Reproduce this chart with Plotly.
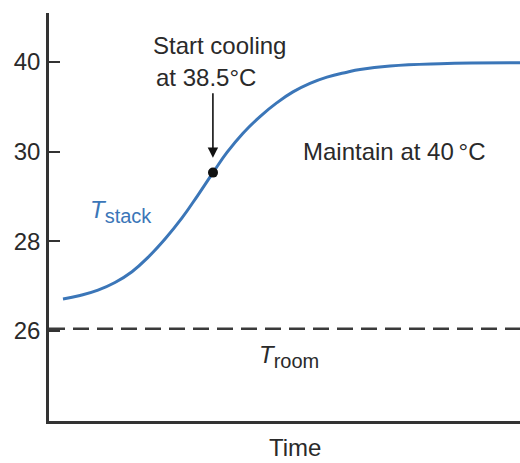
import plotly.graph_objects as go

# Curve: time (arbitrary units, 0-100) vs displayed temperature position
time_pts = [2.97, 6.58, 10.40, 14.01, 17.62, 21.02, 24.63, 28.24, 31.63, 34.82, 37.79,
            41.19, 44.80, 48.41, 51.80, 55.41, 59.02, 63.27, 66.03, 72.40, 83.01, 100.0]
t_stack = [26.71, 26.79, 26.91, 27.08, 27.32, 27.64, 28.05, 28.52, 29.03, 29.53, 29.98,
           30.41, 30.78, 31.09, 31.33, 31.52, 31.66, 31.77, 31.83, 31.91, 31.96, 31.98]

t_room = 26.05
cool_time = 34.82
cool_temp = 29.53

tick_vals = [26, 28, 30, 32]
tick_text = ["26", "28", "30", "40"]

FONT = "Liberation Sans, Arial, sans-serif"
BLUE = "#3b76b8"
DARK = "#2a2a2a"
FS = 24

fig = go.Figure()

fig.add_trace(go.Scatter(
    x=[0, 100], y=[t_room, t_room], mode="lines",
    line=dict(color="#3a3a3a", width=2.5, dash="16px,8px"),
    hoverinfo="skip", showlegend=False))

fig.add_trace(go.Scatter(
    x=time_pts, y=t_stack, mode="lines",
    line=dict(color=BLUE, width=3, shape="spline", smoothing=1.3),
    showlegend=False))

fig.add_trace(go.Scatter(
    x=[cool_time], y=[cool_temp], mode="markers",
    marker=dict(color="#111111", size=10),
    showlegend=False))

ann_font = dict(family=FONT, size=FS, color=DARK)

fig.add_annotation(x=36.1, y=32.36, text="Start cooling", showarrow=False, font=ann_font)
fig.add_annotation(x=33.3, y=31.66, text="at 38.5\u00b0C", showarrow=False, font=ann_font)
fig.add_annotation(x=34.8, y=29.86, ax=0, ay=-66, axref="pixel", ayref="pixel", text="",
                   showarrow=True, arrowhead=2, arrowsize=1.3, arrowwidth=1.6, arrowcolor="#111111")
fig.add_annotation(x=73.4, y=29.99, text="Maintain at 40\u2009\u00b0C", showarrow=False, font=ann_font)
fig.add_annotation(x=15.3, y=28.66,
                   text="<i>T</i><sub><span style='font-size:20px'>stack</span></sub>",
                   showarrow=False, font=dict(family=FONT, size=FS, color=BLUE))
fig.add_annotation(x=51.0, y=25.42,
                   text="<i>T</i><sub><span style='font-size:20px'>room</span></sub>",
                   showarrow=False, font=dict(family=FONT, size=FS, color=DARK))
fig.add_annotation(x=0.522, y=-0.066, xref="paper", yref="paper", yanchor="middle",
                   text="Time", showarrow=False, font=ann_font)

fig.update_layout(
    width=520, height=463,
    margin=dict(l=49, r=0, t=13, b=42),
    plot_bgcolor="white", paper_bgcolor="white",
    xaxis=dict(range=[0, 100], showgrid=False, zeroline=False, showticklabels=False,
               ticks="", showline=True, linecolor="#333333", linewidth=2.5),
    yaxis=dict(range=[23.99, 33.09], showgrid=False, zeroline=False,
               tickvals=tick_vals, ticktext=tick_text, ticks="inside", ticklen=11,
               tickwidth=2, tickcolor="#333333", showline=True, linecolor="#333333",
               linewidth=2.5, tickfont=dict(family=FONT, size=FS, color=DARK),
               ticklabelstandoff=1),
)

fig.write_html("out.html")
